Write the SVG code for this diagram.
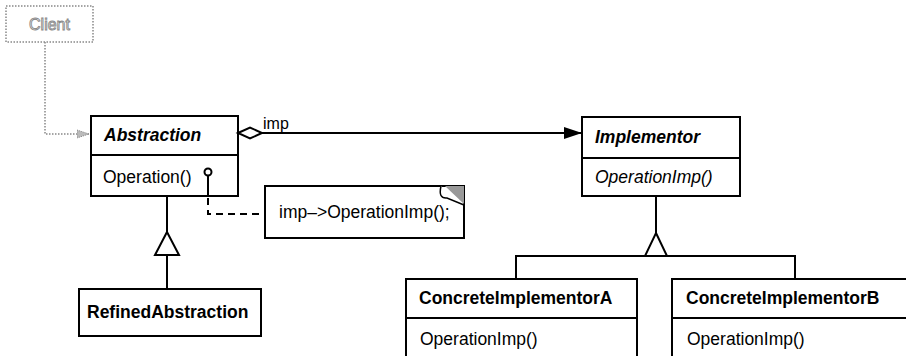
<svg xmlns="http://www.w3.org/2000/svg" width="906" height="356" viewBox="0 0 906 356">
<defs>
<style>
.box{fill:#fff;stroke:#000;stroke-width:2}
.ln{fill:none;stroke:#000;stroke-width:2}
.t{font-family:"Liberation Sans",Arial,sans-serif;font-size:17.5px;fill:#000}
.b{font-weight:bold}
.i{font-style:italic}
.dash{fill:none;stroke:#000;stroke-width:2;stroke-dasharray:7,5}
.dot{fill:none;stroke:#888;stroke-width:1.5;stroke-dasharray:1.5,1.5}
</style>
<marker id="fill" viewBox="0 0 18 12" refX="18" refY="6" markerWidth="18" markerHeight="12" markerUnits="userSpaceOnUse" orient="auto">
<path d="M0,0 L18,6 L0,12 Z" fill="#000"/>
</marker>
<marker id="dotarr" viewBox="0 0 12 10" refX="12" refY="5" markerWidth="12" markerHeight="10" markerUnits="userSpaceOnUse" orient="auto">
<path d="M0,1 L12,5 L0,9 Z" fill="#bbb" stroke="#888" stroke-width="1" stroke-dasharray="1,1"/>
</marker>
</defs>
<rect width="906" height="356" fill="#fff"/>

<g id="client">
<rect x="6" y="6" width="87" height="36" fill="#fff" stroke="#888" stroke-width="1.5" stroke-dasharray="1.5,1.5"/>
<text class="t" x="49.5" y="30" text-anchor="middle" style="font-size:16px;fill:#fff;stroke:#888;stroke-width:0.9">Client</text>
</g>

<g id="abstraction">
<rect class="box" x="91" y="116" width="147" height="80"/>
<line class="ln" x1="91" y1="155" x2="238" y2="155"/>
<text class="t b i" x="104" y="141">Abstraction</text>
<text class="t" x="103" y="183">Operation()</text>
</g>

<g id="refinedAbstraction">
<rect class="box" x="79" y="289" width="182" height="47"/>
<text class="t b" x="87" y="318">RefinedAbstraction</text>
</g>

<g id="note">
<path class="box" d="M265,186 H464 V238 H265 Z"/>
<path d="M445,186 H464 V204 Z" fill="#999"/>
<path d="M441,186 Q438,199 447,198 L464,205" fill="#fff" stroke="#000" stroke-width="1.5"/>
<text class="t" x="279" y="218">imp–&gt;OperationImp();</text>
</g>

<g id="implementor">
<rect class="box" x="582" y="117" width="158" height="79"/>
<line class="ln" x1="582" y1="158" x2="740" y2="158"/>
<text class="t b i" x="595" y="143">Implementor</text>
<text class="t i" x="595" y="183">OperationImp()</text>
</g>

<g id="concreteImplementorA">
<rect class="box" x="406" y="279" width="231" height="90"/>
<line class="ln" x1="406" y1="318" x2="637" y2="318"/>
<text class="t b" x="419" y="304">ConcreteImplementorA</text>
<text class="t" x="420" y="345">OperationImp()</text>
</g>

<g id="concreteImplementorB">
<rect class="box" x="672" y="279" width="240" height="90"/>
<line class="ln" x1="672" y1="318" x2="912" y2="318"/>
<text class="t b" x="686" y="304">ConcreteImplementorB</text>
<text class="t" x="687" y="345">OperationImp()</text>
</g>

<g id="connectors">
<path class="dot" d="M45,42 V134 H89" marker-end="url(#dotarr)"/>
<line class="ln" x1="262" y1="133" x2="582" y2="133" marker-end="url(#fill)"/>
<path d="M238,133 L250,127.5 L262,133 L250,138.5 Z" fill="#fff" stroke="#000" stroke-width="2"/>
<text class="t" x="263" y="129" style="font-size:16px">imp</text>
<line class="ln" x1="167" y1="196" x2="167" y2="232"/>
<path class="box" d="M167,232 L179,255 L155,255 Z"/>
<line class="ln" x1="167" y1="255" x2="167" y2="289"/>
<line class="ln" x1="656" y1="196" x2="656" y2="233"/>
<path class="box" d="M656,233 L667,256 L645,256 Z"/>
<path class="ln" d="M516,279 V256 H795 V279"/>
<line class="ln" x1="208" y1="175" x2="208" y2="196"/>
<circle cx="208" cy="172" r="3.5" fill="#fff" stroke="#000" stroke-width="2"/>
<path class="dash" d="M208,198 V214 H265"/>
</g>
</svg>
